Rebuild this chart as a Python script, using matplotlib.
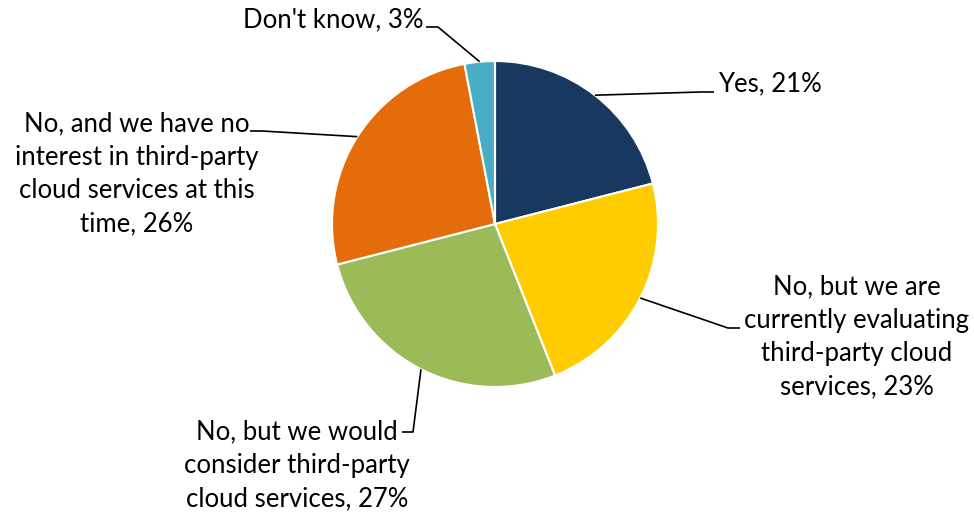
import matplotlib
matplotlib.use("Agg")
import matplotlib.pyplot as plt
import numpy as np

# survey answers, clockwise from 12 o'clock
labels = [
    "Yes, 21%",
    "No, but we are\ncurrently evaluating\nthird-party cloud\nservices, 23%",
    "No, but we would\nconsider third-party\ncloud services, 27%",
    "No, and we have no\ninterest in third-party\ncloud services at this\ntime, 26%",
    "Don't know, 3%",
]
shares = [21, 23, 27, 26, 3]
colors = ["#18385F", "#FFCC00", "#9BBB59", "#E46C0A", "#4BACC6"]

W, H = 974, 512
CX, CY, R = 495, 224, 163

# label placement in pixels from top-left: text anchor, elbow of leader, end of leader
label_pos = [
    dict(xy=(718, 84), ha="left", elbow=(700, 92), end=(714, 92)),
    dict(xy=(857, 337), ha="center", elbow=(728, 328), end=(740, 328)),
    dict(xy=(297, 465), ha="center", elbow=(413, 432), end=(402, 432)),
    dict(xy=(137, 174), ha="center", elbow=(262, 131), end=(250, 131)),
    dict(xy=(333, 20), ha="center", elbow=(438, 27), end=(426, 27)),
]

plt.rcParams["font.family"] = ["Lato", "DejaVu Sans"]

fig = plt.figure(figsize=(W / 100, H / 100), dpi=100)
ax = fig.add_axes([0, 0, 1, 1])

wedges, _ = ax.pie(shares, colors=colors, startangle=90, counterclock=False,
                   center=(CX, H - CY), radius=R,
                   wedgeprops=dict(edgecolor="white", linewidth=1.5))

for w, lab, p in zip(wedges, labels, label_pos):
    th = np.deg2rad((w.theta1 + w.theta2) / 2)
    sx, sy = CX + R * np.cos(th), (H - CY) + R * np.sin(th)
    ex, ey = p["elbow"]
    fx, fy = p["end"]
    ax.plot([sx, ex, fx], [sy, H - ey, H - fy], color="black", lw=1.2,
            solid_capstyle="butt", zorder=3)
    ax.text(p["xy"][0], H - p["xy"][1], lab, ha=p["ha"], va="center",
            fontsize=18.5, linespacing=1.42, color="black")

ax.set_xlim(0, W)
ax.set_ylim(0, H)
ax.set_aspect("equal")
ax.axis("off")

fig.savefig("out.png", dpi=100, facecolor="white")
